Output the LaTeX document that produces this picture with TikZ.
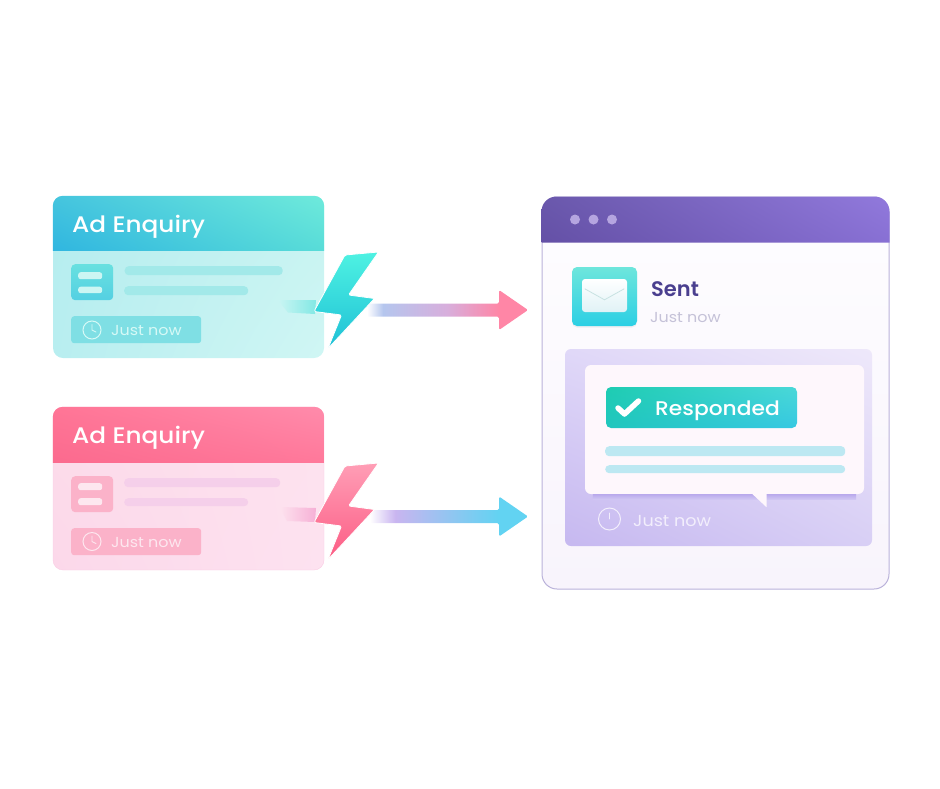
\documentclass[tikz,border=0pt]{standalone}
\usepackage{fontspec}
\setmainfont{Poppins}[FakeStretch=1.1]
\newfontfamily\titlefont{Poppins Medium}[FakeStretch=1.1]
\newfontfamily\sentfont{Poppins SemiBold}
\usetikzlibrary{calc,shadows,shadings}

\definecolor{tealline}{HTML}{A2E9E9}
\definecolor{tealchip}{HTML}{7FDFE4}
\definecolor{tealpale}{HTML}{D6F9F6}
\definecolor{pinkline}{HTML}{F5CFEA}
\definecolor{pinkchip}{HTML}{FBB2C9}
\definecolor{pinkpale}{HTML}{FDE7EF}
\definecolor{sentink}{HTML}{4A3F8F}
\definecolor{greyink}{HTML}{C5C2D8}
\definecolor{skyline}{HTML}{BDE8F2}
\definecolor{flowblue}{HTML}{B5C6EE}
\definecolor{flowlilac}{HTML}{D8AEDC}
\definecolor{flowrose}{HTML}{FF86A6}
\definecolor{flowviolet}{HTML}{C9B5F0}
\definecolor{flowsky}{HTML}{62D3F2}
\definecolor{bubblefill}{HTML}{FEF7FC}
\definecolor{replypale}{HTML}{F2EEFC}
\definecolor{flapline}{HTML}{C8E2E2}

\pgfdeclarehorizontalshading{flowA}{100bp}{color(0bp)=(white); color(25bp)=(white); color(30bp)=(flowblue);
  color(50bp)=(flowlilac); color(66bp)=(flowrose); color(75bp)=(flowrose); color(100bp)=(flowrose)}
\pgfdeclarehorizontalshading{flowB}{100bp}{color(0bp)=(white); color(25bp)=(white); color(33bp)=(flowviolet);
  color(52bp)=(flowviolet!40!flowsky); color(66bp)=(flowsky); color(75bp)=(flowsky); color(100bp)=(flowsky)}

\tikzset{
  card/.style={minimum width=271pt,minimum height=162pt,rounded corners=10pt},
  bar/.style={rounded corners=4pt,inner sep=0pt,anchor=north west,minimum height=9pt},
  iconbox/.style={rounded corners=4pt,inner sep=0pt,anchor=north west,minimum width=42pt,minimum height=36pt},
  iconbar/.style={rounded corners=2.5pt,inner sep=0pt,anchor=north west,minimum width=24pt,minimum height=7pt},
  chip/.style={rounded corners=3pt,inner sep=0pt,anchor=north west,minimum width=130pt,minimum height=27pt},
  clockface/.style={circle,draw,line width=1pt,inner sep=0pt,minimum size=18pt},
  clockhand/.style={line width=.9pt,line cap=round,line join=round},
  title/.style={anchor=base west,inner sep=0pt,text=white,font=\titlefont\fontsize{22.5}{23}\selectfont},
  stamp/.style={anchor=base west,inner sep=0pt,font=\fontsize{14.5}{15}\selectfont},
  bolt/.style={rounded corners=1.5pt,draw=white,line width=.8pt},
  flowarrow/.style={rounded corners=1.5pt,to path={
    (\tikztostart) ++(0,-6.5) -- ($(\tikztotarget)+(-29,-6.5)$) -- ++(0,-13.5) -- (\tikztotarget)
    -- ++(-29,20) -- ++(0,-13.5) -- ($(\tikztostart)+(0,6.5)$) -- cycle}},
}

\begin{document}
\begin{tikzpicture}[x=1pt,y=-1pt,node distance=211.5pt]
\useasboundingbox (0,0) rectangle (940,788);

% left cards
\node[card,upper left={rgb,255:red,182;green,237;blue,239},upper right={rgb,255:red,198;green,243;blue,241},
  lower left={rgb,255:red,184;green,238;blue,240},lower right={rgb,255:red,208;green,246;blue,244}](enquiryA) at (188.5,277) {};
\node[card,minimum height=163pt,draw={rgb,255:red,250;green,205;blue,228},upper left={rgb,255:red,252;green,220;blue,234},upper right={rgb,255:red,253;green,226;blue,238},
  lower left={rgb,255:red,252;green,216;blue,234},lower right={rgb,255:red,253;green,226;blue,240},below of=enquiryA](enquiryB) {};

\shade[upper left={rgb,255:red,69;green,197;blue,222},lower left={rgb,255:red,48;green,182;blue,224},
  upper right={rgb,255:red,110;green,234;blue,219},lower right={rgb,255:red,88;green,220;blue,216}]
  (enquiryA.north west) ++(0,55) [rounded corners=10pt] -- (enquiryA.north west) -- (enquiryA.north east) [sharp corners] -- ++(0,55) -- cycle;
\shade[upper left={rgb,255:red,255;green,117;blue,150},lower left={rgb,255:red,251;green,106;blue,142},
  upper right={rgb,255:red,255;green,139;blue,171},lower right={rgb,255:red,255;green,120;blue,154}]
  (enquiryB.north west) ++(0,56) [rounded corners=10pt] -- (enquiryB.north west) -- (enquiryB.north east) [sharp corners] -- ++(0,56) -- cycle;

\node[title](titleA) at (72,232) {Ad Enquiry};
\node[title](titleB) at (72,443) {Ad Enquiry};

\node[iconbox,top color={rgb,255:red,104;green,224;blue,224},bottom color={rgb,255:red,84;green,208;blue,226}](iconA) at (71,264) {};
\node[iconbar,fill=tealpale!80!tealline](iconA1) at (78,272) {};
\node[iconbar,fill=tealpale!80!tealline,minimum height=6.5pt](iconA2) at (78,286.5) {};
\node[iconbox,fill=pinkchip](iconB) at (71,476) {};
\node[iconbar,fill=pinkpale](iconB1) at (78,483) {};
\node[iconbar,fill=pinkpale](iconB2) at (78,498) {};

\node[bar,fill=tealline,minimum width=158pt](lineA1) at (124.5,266) {};
\node[bar,fill=tealline,minimum width=124pt](lineA2) at (124,286) {};
\node[bar,fill=pinkline,minimum width=156pt](lineB1) at (124,478) {};
\node[bar,fill=pinkline,minimum width=124pt,minimum height=8pt](lineB2) at (124,498) {};

\node[chip,fill=tealchip](chipA) at (71,316) {};
\node[chip,fill=pinkchip](chipB) at (71,528) {};
\node[clockface,draw=tealpale](clockA) at (92,330) {};
\node[clockface,draw=pinkpale](clockB) at (92,541.5) {};
\draw[clockhand,tealpale] (clockA.center) ++(0,-5.5) -- (clockA.center) -- ++(4,2);
\draw[clockhand,pinkpale] (clockB.center) ++(0,-5.5) -- (clockB.center) -- ++(4,2);
\node[stamp,text=tealpale](stampA) at (111,335) {Just now};
\node[stamp,text=pinkpale](stampB) at (111,547) {Just now};

% streaks behind the bolts
\shade[left color={rgb,255:red,202;green,245;blue,243},right color={rgb,255:red,130;green,232;blue,228}]
  (278,300) -- (316,300) -- (315,314) -- (288,312.5) -- cycle;
\shade[left color={rgb,255:red,253;green,226;blue,238},right color={rgb,255:red,246;green,176;blue,214}]
  (280,507) -- (316,508) -- (315,522) -- (287,521) -- cycle;

% arrows
\coordinate (startA) at (367,310);
\coordinate (tipA) at (528,310);
\coordinate (startB) at (370,516.5);
\coordinate (tipB) at (528,516.5);
\shade[flowarrow,shading=flowA] (startA) to (tipA);
\shade[flowarrow,shading=flowB] (startB) to (tipB);

% bolts
\shade[bolt,top color={rgb,255:red,78;green,242;blue,226},bottom color={rgb,255:red,30;green,192;blue,214}]
  (345,255) -- (378.5,252) -- (348.5,295) -- (374.5,298.5) -- (328,348.5) -- (341.5,315) -- (314,311.5) -- cycle;
\shade[bolt,top color={rgb,255:red,255;green,158;blue,182},bottom color={rgb,255:red,252;green,92;blue,132}]
  (345,466) -- (378.5,463) -- (348.5,506) -- (374.5,509.5) -- (328,559.5) -- (341.5,526) -- (314,522.5) -- cycle;

% window on the right
\node[minimum width=347pt,minimum height=392pt,rounded corners=15pt,draw={rgb,255:red,186;green,178;blue,218},line width=1pt,
  top color={rgb,255:red,254;green,253;blue,255},bottom color={rgb,255:red,248;green,244;blue,252}](window) at (715.5,393) {};
\shade[upper left={rgb,255:red,106;green,88;blue,172},lower left={rgb,255:red,100;green,80;blue,166},
  upper right={rgb,255:red,145;green,121;blue,220},lower right={rgb,255:red,136;green,112;blue,212}]
  (window.north west) ++(0,46) [rounded corners=15pt] -- (window.north west) -- (window.north east) [sharp corners] -- ++(0,46) -- cycle;
\foreach \x/\name in {575/dotA,593.5/dotB,612/dotC}
  \node[circle,inner sep=0pt,minimum size=10pt,fill={rgb,255:red,181;green,165;blue,224}](\name) at (\x,219.5) {};

\node[minimum width=65pt,minimum height=59pt,inner sep=0pt,rounded corners=5pt,top color={rgb,255:red,110;green,230;blue,220},
  bottom color={rgb,255:red,44;green,207;blue,228},drop shadow={shadow xshift=0pt,shadow yshift=-1.5pt,opacity=.1}](mailbox) at (604.5,296.5) {};
\node[minimum width=45pt,minimum height=33pt,inner sep=0pt,rounded corners=3pt,top color=white,
  bottom color={rgb,255:red,224;green,242;blue,246}](letter) at (604.5,295.5) {};
\draw[flapline,line width=.8pt] ($(letter.north west)+(3,10)$) -- ($(letter.north)+(0,21)$) -- ($(letter.north east)+(-3,10)$);
\node[anchor=base west,inner sep=0pt,text=sentink,font=\sentfont\fontsize{21}{21}\selectfont](sent) at (651,296) {Sent};
\node[stamp,text=greyink](sentstamp) at (650,322) {Just now};

\node[minimum width=307pt,minimum height=197pt,rounded corners=6pt,upper left={rgb,255:red,224;green,216;blue,248},
  upper right={rgb,255:red,238;green,232;blue,250},lower left={rgb,255:red,198;green,184;blue,240},
  lower right={rgb,255:red,216;green,207;blue,245}](reply) at (718.5,447.5) {};
\node[minimum width=279pt,minimum height=129pt,rounded corners=6pt,fill=bubblefill](bubble) at (724.5,429.5) {};
\shade[top color={rgb,255:red,186;green,170;blue,236},bottom color={rgb,255:red,208;green,198;blue,243}]
  ($(bubble.south west)+(8,0)$) rectangle ($(bubble.south east)+(-8,5)$);
\fill[bubblefill] (bubble.south) ++(27,-1) -- ++(15,14) -- ++(0,-14) -- cycle;

\node[minimum width=191pt,minimum height=41pt,inner sep=0pt,rounded corners=5pt,upper left={rgb,255:red,30;green,204;blue,178},
  lower left={rgb,255:red,32;green,198;blue,190},upper right={rgb,255:red,74;green,216;blue,216},lower right={rgb,255:red,54;green,200;blue,226}](badge) at (701.5,407.5) {};
\draw[white,line width=5.5pt,line cap=round,line join=round] (618,408) -- (624.5,414) -- (638.5,401);
\node[title,font=\titlefont\fontsize{19.8}{21}\selectfont](responded) at (655,415.5) {Responded};
\node[bar,fill=skyline,minimum width=240pt,minimum height=10pt](lineC1) at (605,446) {};
\node[bar,fill=skyline,minimum width=240pt,minimum height=8pt](lineC2) at (605,465) {};

\node[clockface,draw=replypale,minimum size=22pt](clockC) at (609.5,519) {};
\draw[clockhand,replypale] (clockC.center) ++(0,-6) -- (clockC.center);
\node[stamp,text=replypale,font=\fontsize{16}{16}\selectfont](replystamp) at (633,526) {Just now};
\end{tikzpicture}
\end{document}
